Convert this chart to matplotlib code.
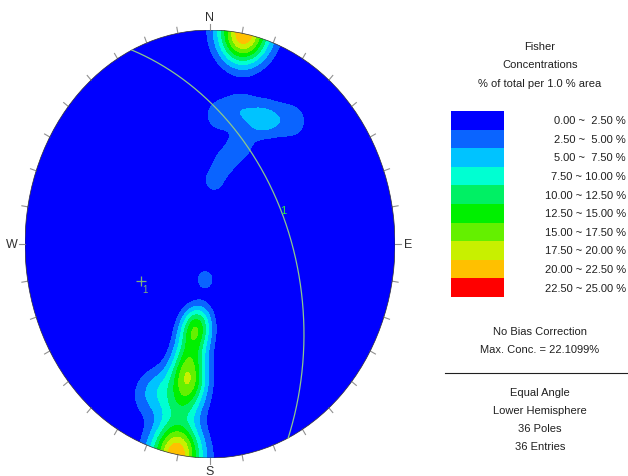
import numpy as np
import matplotlib
matplotlib.use("Agg")
import matplotlib.pyplot as plt
from matplotlib.patches import Circle, Rectangle
from matplotlib.lines import Line2D

plt.rcParams['font.family'] = ['Liberation Sans', 'DejaVu Sans']

# Pole orientations (trend, plunge) in degrees, lower hemisphere
pole_trend = [8, 11, 13, 10, 188, 191, 193, 190,
              188, 195,
              190, 196, 186, 192,
              190, 195, 187,
              190, 193, 187, 191, 194,
              191, 189, 195, 202, 205,
              189,
              4, 14, 24, 29, 38, 20, 12, 4]
pole_plunge = [2, 3, 2, 4, 2, 3, 2, 4,
               53, 51,
               47, 44, 45, 42,
               37, 35, 33,
               25, 27, 24, 22, 29,
               18, 15, 13, 20, 14,
               71,
               28, 24, 25, 23, 18, 38, 47, 57]

# Mean set plane (dip direction / dip)
plane_dipdir = 65
plane_dip = 45

kappa = 122
max_conc = 22.1099
levels = [0, 2.5, 5, 7.5, 10, 12.5, 15, 17.5, 20, 22.5, 25]
level_labels = ["0.00 ~  2.50 %", "2.50 ~  5.00 %", "5.00 ~  7.50 %",
                "7.50 ~ 10.00 %", "10.00 ~ 12.50 %", "12.50 ~ 15.00 %",
                "15.00 ~ 17.50 %", "17.50 ~ 20.00 %", "20.00 ~ 22.50 %",
                "22.50 ~ 25.00 %"]
level_colors = ["#0000ff", "#0a64ff", "#00c3ff", "#00ffd2", "#00f064",
                "#00f000", "#64f000", "#c8f000", "#ffc000", "#ff0000"]


def to_vec(trend, plunge):
    t = np.radians(trend)
    p = np.radians(plunge)
    return np.stack([np.cos(p) * np.cos(t), np.cos(p) * np.sin(t), np.sin(p)], axis=-1)


def project(trend, plunge):
    # equal-angle (stereographic) projection, lower hemisphere
    r = np.tan(np.radians(90 - np.asarray(plunge)) / 2)
    t = np.radians(trend)
    return r * np.sin(t), r * np.cos(t)


# Fisher density (% of total per 1 % area) on a grid
n = 500
gx, gy = np.meshgrid(np.linspace(-1.02, 1.02, n), np.linspace(-1.02, 1.02, n))
gr = np.hypot(gx, gy)
g_pl = 90 - 2 * np.degrees(np.arctan(np.minimum(gr, 1.0)))
g_tr = np.degrees(np.arctan2(gx, gy))
gv = to_vec(g_tr, g_pl)
pv = to_vec(np.array(pole_trend), np.array(pole_plunge))
cosang = np.tensordot(gv, pv, axes=([-1], [-1]))
npoles = len(pole_trend)
dens = (kappa / (1 - np.exp(-2 * kappa))) * (np.exp(kappa * (cosang - 1)) +
                                             np.exp(kappa * (-cosang - 1)))
dens = dens.sum(axis=-1) / npoles

W, H = 628, 477
fig = plt.figure(figsize=(W / 100, H / 100), dpi=100)
cx, cy, rx, ry = 210, 245, 185, 214
ax = fig.add_axes([(cx - rx) / W, (H - cy - ry) / H, 2 * rx / W, 2 * ry / H])
ax.set_xlim(-1, 1)
ax.set_ylim(-1, 1)
ax.set_aspect('auto')
ax.axis('off')

clip = Circle((0, 0), 1.0, transform=ax.transData, facecolor='none')
cf = ax.contourf(gx, gy, np.clip(dens, 0, 24.99), levels=levels, colors=level_colors)
cf.set_clip_path(clip)
ax.add_patch(Circle((0, 0), 1.0, facecolor='none', edgecolor='#303030', lw=0.5, zorder=3))

# Azimuth ticks every 10 degrees
for a in range(0, 360, 10):
    s, c = np.sin(np.radians(a)), np.cos(np.radians(a))
    ax.add_line(Line2D([s, s * (1 + 6 / rx)], [c, c * (1 + 6 / ry)],
                       color='#909090', lw=0.8, clip_on=False))

lab_kw = dict(fontsize=9, color='#303030', ha='center', va='center', clip_on=False)
ax.text(0, 1 + 13 / ry, 'N', **lab_kw)
ax.text(0, -1 - 13 / ry, 'S', **lab_kw)
ax.text(-1 - 13 / rx, 0, 'W', **lab_kw)
ax.text(1 + 13 / rx, 0, 'E', **lab_kw)

# Great circle of the mean plane
strike = plane_dipdir - 90
sv = to_vec(strike, 0)
dv = to_vec(plane_dipdir, plane_dip)
tt = np.radians(np.linspace(0, 180, 400))
lv = np.cos(tt)[:, None] * sv + np.sin(tt)[:, None] * dv
l_pl = np.degrees(np.arcsin(np.clip(lv[:, 2], -1, 1)))
l_tr = np.degrees(np.arctan2(lv[:, 1], lv[:, 0]))
gcx, gcy = project(l_tr, l_pl)
ax.plot(gcx, gcy, color='#8cc88c', lw=0.9, zorder=4)

# Pole of the mean plane
px, py = project(plane_dipdir + 180, 90 - plane_dip)
ax.plot(px, py, marker='+', ms=7, mew=0.9, color='#7fb07f', zorder=5)
ax.text(px + 4 / rx, py - 8 / ry, '1', fontsize=7, color='#7fb07f', ha='center', va='center', zorder=5)
ax.text(0.395, 0.16, '1', fontsize=8, color='#30f040', ha='center', va='center', zorder=5)

# Legend
def fx(x):
    return x / W


def fy(y):
    return (H - y) / H


txt_kw = dict(fontsize=8, color='#202020', ha='center', va='center')
fig.text(fx(540), fy(47), 'Fisher', **txt_kw)
fig.text(fx(540), fy(65), 'Concentrations', **txt_kw)
fig.text(fx(540), fy(84), '% of total per 1.0 % area', **txt_kw)

box_top, box_h = 112, 18.6
for i, (col, lab) in enumerate(zip(level_colors, level_labels)):
    y0 = box_top + i * box_h
    fig.add_artist(Rectangle((fx(451), fy(y0 + box_h)), fx(504) - fx(451), box_h / H,
                             transform=fig.transFigure, facecolor=col, edgecolor='none'))
    fig.text(fx(626), fy(y0 + box_h / 2), lab, fontsize=8, color='#202020', ha='right', va='center')

fig.text(fx(540), fy(332), 'No Bias Correction', **txt_kw)
fig.text(fx(540), fy(350), 'Max. Conc. = %.4f%%' % max_conc, **txt_kw)
fig.add_artist(Line2D([fx(445), fx(628)], [fy(374), fy(374)], transform=fig.transFigure,
                      color='#202020', lw=0.8))
fig.text(fx(540), fy(393), 'Equal Angle', **txt_kw)
fig.text(fx(540), fy(411), 'Lower Hemisphere', **txt_kw)
fig.text(fx(540), fy(429), '%d Poles' % npoles, **txt_kw)
fig.text(fx(540), fy(447), '%d Entries' % npoles, **txt_kw)

fig.savefig('out.png', dpi=100)
